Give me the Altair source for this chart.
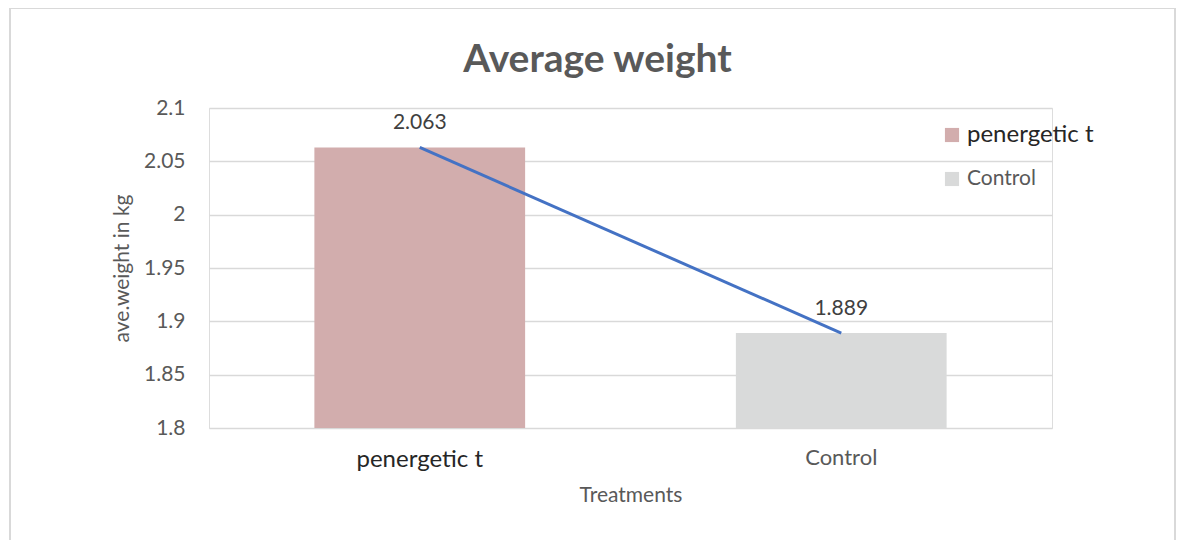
import altair as alt
import pandas as pd

categories = ["penergetic t", "Control"]
values = [2.063, 1.889]
labels = ["2.063", "1.889"]
bar_colors = ["#D2ADAD", "#D9DADA"]

df = pd.DataFrame({"Treatment": categories, "Weight": values, "Label": labels})

FONT = "Lato"

x_enc = alt.X(
    "Treatment:N",
    sort=categories,
    scale=alt.Scale(paddingInner=0, paddingOuter=0),
    axis=alt.Axis(
        title="Treatments",
        titleFontSize=21,
        titleFontWeight="normal",
        titleColor="#595959",
        titleFont=FONT,
        titlePadding=13,
        labelAngle=0,
        labelFont=FONT,
        labelFontSize={"condition": {"test": "datum.value === 'Control'", "value": 22}, "value": 24},
        labelColor={"condition": {"test": "datum.value === 'Control'", "value": "#595959"}, "value": "#262626"},
        labelPadding=19,
        ticks=False,
        domain=False,
        grid=False,
    ),
)

y_scale = alt.Scale(domain=[1.8, 2.1], zero=False, nice=False)

bars = alt.Chart(df).mark_bar(width={"band": 0.5}, clip=True).encode(
    x=x_enc,
    y=alt.Y(
        "Weight:Q",
        scale=y_scale,
        axis=alt.Axis(
            title="ave.weight in kg",
            titleFontSize=21,
            titleFontWeight="normal",
            titleColor="#595959",
            titleFont=FONT,
            titlePadding=11,
            values=[1.8, 1.85, 1.9, 1.95, 2.0, 2.05, 2.1],
            labelExpr="datum.value == 2 ? '2' : format(datum.value, '.3~f')",
            labelFont=FONT,
            labelFontSize=21,
            labelColor="#595959",
            labelPadding=24,
            ticks=False,
            domain=False,
            grid=True,
            gridColor="#D9D9D9",
            gridWidth=1.5,
        ),
    ),
    y2=alt.datum(1.8),
    color=alt.Color(
        "Treatment:N",
        sort=categories,
        scale=alt.Scale(domain=categories, range=bar_colors),
        legend=alt.Legend(
            title=None,
            orient="none",
            legendX=731,
            legendY=15,
            symbolType="square",
            symbolSize=200,
            symbolStrokeWidth=0,
            labelFont=FONT,
            labelFontSize=alt.ExprRef("datum.label === 'Control' ? 21 : 24"),
            labelColor=alt.ExprRef("datum.label === 'Control' ? '#595959' : '#262626'"),
            rowPadding=20,
            labelOffset=3,
        ),
    ),
)

line = alt.Chart(df).mark_line(color="#4472C4", strokeWidth=3).encode(
    x=alt.X("Treatment:N", sort=categories, bandPosition=0.5),
    y=alt.Y("Weight:Q", scale=y_scale),
)

text = alt.Chart(df).mark_text(
    dy=-18, baseline="alphabetic", fontSize=21, font=FONT, color="#404040"
).encode(
    x=alt.X("Treatment:N", sort=categories, bandPosition=0.5),
    y=alt.Y("Weight:Q", scale=y_scale),
    text="Label:N",
)

frame_left = alt.Chart(df).mark_rule(color="#D9D9D9", strokeWidth=2).encode(
    x=alt.value(-199), y=alt.value(-100), y2=alt.value(440)
)
frame_top = alt.Chart(df).mark_rule(color="#D9D9D9", strokeWidth=2).encode(
    x=alt.value(-199), x2=alt.value(966), y=alt.value(-100)
)
frame_right = alt.Chart(df).mark_rule(color="#D9D9D9", strokeWidth=2).encode(
    x=alt.value(966), y=alt.value(-100), y2=alt.value(440)
)

chart = alt.layer(bars, line, text, frame_left, frame_top, frame_right).properties(
    width=843,
    height=320,
    title=alt.TitleParams(
        "Average weight",
        fontSize=39,
        fontWeight="bold",
        color="#595959",
        font=FONT,
        anchor="middle",
        frame="group",
        offset=0,
        dy=73,
        dx=-33,
    ),
    autosize=alt.AutoSizeParams(type="none"),
    padding={"left": 201, "top": 100, "right": 125, "bottom": 112},
).configure_view(stroke=None).configure(background="white")

chart.save("out.html", embed_options={"renderer": "svg", "actions": False})
